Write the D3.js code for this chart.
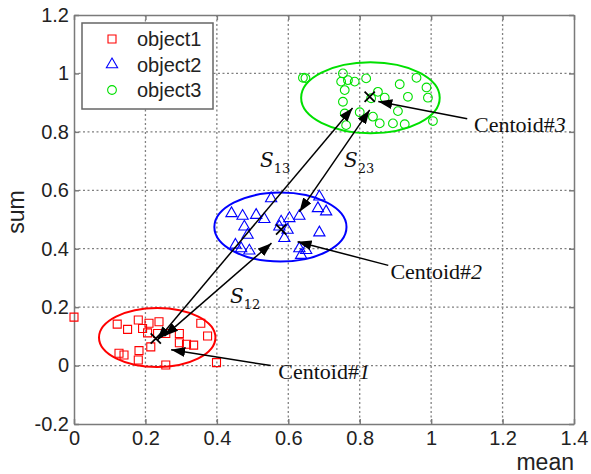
<!DOCTYPE html>
<html>
<head>
<meta charset="utf-8">
<script src="https://cdn.jsdelivr.net/npm/d3@7"></script>
<style>
  body { margin: 0; background: #fff; }
  svg { display: block; }
  .tick text { font-family: "Liberation Sans", Arial, sans-serif; font-size: 20px; fill: #222; }
</style>
</head>
<body>
<svg></svg>
<script>
window.addEventListener('DOMContentLoaded', () => {
  let svgWidth = 591
  let svgHeight = 474
  let left = 74, right = 574, top = 15, bottom = 424

  let xTicks = [0, 0.2, 0.4, 0.6, 0.8, 1, 1.2, 1.4]
  let yTicks = [-0.2, 0, 0.2, 0.4, 0.6, 0.8, 1, 1.2]

  /* object1 (red squares) */
  let obj1X = [0.121, 0.150, 0.180, 0.210, 0.238, 0.192, 0.206, 0.234, 0.257, 0.295, 0.355, 0.374,
               0.295, 0.315, 0.335, 0.215, 0.182, 0.126, 0.140, 0.180, 0.257, 0.399, 0.0]
  let obj1Y = [0.142, 0.124, 0.156, 0.145, 0.150, 0.127, 0.112, 0.110, 0.110, 0.110, 0.145, 0.101,
               0.078, 0.073, 0.070, 0.064, 0.051, 0.042, 0.036, 0.019, 0.002, 0.010, 0.166]

  /* object2 (blue triangles) */
  let obj2X = [0.441, 0.472, 0.510, 0.533, 0.552, 0.477, 0.486, 0.580, 0.603, 0.631, 0.575, 0.598,
               0.589, 0.687, 0.683, 0.706, 0.687, 0.468, 0.491, 0.631, 0.650, 0.636, 0.452]
  let obj2Y = [0.521, 0.512, 0.515, 0.501, 0.572, 0.475, 0.447, 0.492, 0.504, 0.512, 0.475, 0.464,
               0.436, 0.578, 0.538, 0.527, 0.455, 0.401, 0.393, 0.401, 0.395, 0.378, 0.413]

  /* object3 (green circles) */
  let obj3X = [0.641, 0.648, 0.753, 0.767, 0.748, 0.786, 0.818, 0.758, 0.851, 0.870, 0.832, 0.912,
               0.959, 0.987, 0.991, 0.935, 0.753, 0.758, 0.800, 0.837, 0.907, 0.856, 0.893, 0.926,
               1.005, 0.762]
  let obj3Y = [0.985, 0.984, 1.000, 0.977, 0.972, 0.972, 0.983, 0.943, 0.937, 0.917, 0.915, 0.963,
               0.985, 0.952, 0.917, 0.920, 0.903, 0.863, 0.867, 0.852, 0.871, 0.829, 0.829, 0.826,
               0.837, 0.823]

  /* cluster ellipses: centre and radii in data units */
  let ellipseCx = [0.233, 0.578, 0.830]
  let ellipseCy = [0.096, 0.474, 0.917]
  let ellipseRx = [0.163, 0.185, 0.194]
  let ellipseRy = [0.101, 0.118, 0.1215]

  let centroidX = [0.229, 0.580, 0.828]
  let centroidY = [0.093, 0.466, 0.920]

  /* distance arrows S12, S13, S23 (double headed) */
  let distNames = ['12', '13', '23']
  let distX0 = [0.253, 0.233, 0.631]
  let distY0 = [0.101, 0.087, 0.526]
  let distX1 = [0.553, 0.780, 0.828]
  let distY1 = [0.419, 0.882, 0.875]
  let distLabelX = [0.437, 0.521, 0.756]
  let distLabelY = [0.214, 0.680, 0.680]

  /* centroid label arrows */
  let labelNums = ['1', '2', '3']
  let labelArrowX0 = [0.551, 0.880, 1.101]
  let labelArrowY0 = [0.0, 0.343, 0.845]
  let labelArrowX1 = [0.272, 0.626, 0.852]
  let labelArrowY1 = [0.054, 0.424, 0.904]
  let labelTextX = [0.572, 0.886, 1.120]
  let labelTextY = [-0.047, 0.297, 0.800]

  let legendNames = ['object1', 'object2', 'object3']
  let colors = ['#ff0000', '#0000ff', '#00e000']

  let svg = d3.select('svg')
      .attr('width', svgWidth)
      .attr('height', svgHeight)

  let xScale = d3.scaleLinear().domain([0, 1.4]).range([left, right])
  let yScale = d3.scaleLinear().domain([-0.2, 1.2]).range([bottom, top])

  /* arrow head marker */
  svg.append('defs')
    .append('marker')
      .attr('id', 'head')
      .attr('viewBox', '0 0 14 10')
      .attr('refX', 14)
      .attr('refY', 5)
      .attr('markerWidth', 14)
      .attr('markerHeight', 10)
      .attr('markerUnits', 'userSpaceOnUse')
      .attr('orient', 'auto-start-reverse')
    .append('path')
      .attr('d', 'M0,0 L14,5 L0,10 Z')
      .attr('fill', '#000')

  /* Grid */
  let grid = svg.append('g').attr('stroke', '#808080').attr('stroke-width', 1.3).attr('stroke-dasharray', '2,2.5')
  grid.selectAll('.vgrid')
    .data(xTicks.slice(1, -1))
    .enter()
    .append('line')
      .attr('x1', d => xScale(d)).attr('x2', d => xScale(d))
      .attr('y1', top).attr('y2', bottom)
  grid.selectAll('.hgrid')
    .data(yTicks.slice(1, -1))
    .enter()
    .append('line')
      .attr('x1', left).attr('x2', right)
      .attr('y1', d => yScale(d)).attr('y2', d => yScale(d))

  /* Axes */
  let fmt = d => String(d)
  let xAxis = svg.append('g')
    .attr('transform', `translate(0, ${bottom})`)
    .call(d3.axisBottom(xScale).tickValues(xTicks).tickFormat(fmt).tickSize(-5).tickSizeOuter(0).tickPadding(7))
  let yAxis = svg.append('g')
    .attr('transform', `translate(${left}, 0)`)
    .call(d3.axisLeft(yScale).tickValues(yTicks).tickFormat(fmt).tickSize(-5).tickSizeOuter(0).tickPadding(5))
  svg.append('g')
    .attr('transform', `translate(0, ${top})`)
    .call(d3.axisTop(xScale).tickValues(xTicks).tickFormat('').tickSize(-5).tickSizeOuter(0))
  svg.append('g')
    .attr('transform', `translate(${right}, 0)`)
    .call(d3.axisRight(yScale).tickValues(yTicks).tickFormat('').tickSize(-5).tickSizeOuter(0))
  svg.selectAll('.domain, .tick line').attr('stroke', '#7a7a7a').attr('stroke-width', 1.5)
  xAxis.selectAll('text').attr('dy', '0.72em')

  /* Axis labels */
  svg.append('text')
    .attr('x', right)
    .attr('y', 470)
    .attr('text-anchor', 'end')
    .style('font-family', '"Liberation Sans", Arial, sans-serif')
    .style('font-size', '23px')
    .attr('fill', '#222')
    .text('mean')
  svg.append('text')
    .attr('transform', `translate(24, 212) rotate(-90)`)
    .attr('text-anchor', 'middle')
    .style('font-family', '"Liberation Sans", Arial, sans-serif')
    .style('font-size', '23px')
    .attr('fill', '#222')
    .text('sum')

  /* Ellipses */
  svg.selectAll('.ell')
    .data(ellipseCx)
    .enter()
    .append('ellipse')
      .attr('cx', d => xScale(d))
      .attr('cy', (d, i) => yScale(ellipseCy[i]))
      .attr('rx', (d, i) => xScale(ellipseRx[i]) - xScale(0))
      .attr('ry', (d, i) => yScale(0) - yScale(ellipseRy[i]))
      .attr('fill', 'none')
      .attr('stroke', (d, i) => colors[i])
      .attr('stroke-width', 2)

  /* Points */
  let squareSym = d3.symbol().type(d3.symbolSquare).size(64)
  let triSym = d3.symbol().type(d3.symbolTriangle).size(55)
  let circleSym = d3.symbol().type(d3.symbolCircle).size(60)
  let sets = [
    { xs: obj1X, ys: obj1Y, sym: squareSym, color: colors[0] },
    { xs: obj2X, ys: obj2Y, sym: triSym, color: colors[1] },
    { xs: obj3X, ys: obj3Y, sym: circleSym, color: colors[2] }
  ]
  sets.forEach(s => {
    svg.append('g')
      .selectAll('path')
      .data(s.xs)
      .enter()
      .append('path')
        .attr('d', s.sym)
        .attr('transform', (d, i) => `translate(${xScale(d)}, ${yScale(s.ys[i])})`)
        .attr('fill', 'none')
        .attr('stroke', s.color)
        .attr('stroke-width', 1.1)
  })

  /* Centroid crosses */
  svg.append('g')
    .selectAll('path')
    .data(centroidX)
    .enter()
    .append('path')
      .attr('d', d3.symbol().type(d3.symbolX).size(70))
      .attr('transform', (d, i) => `translate(${xScale(d)}, ${yScale(centroidY[i])})`)
      .attr('fill', 'none')
      .attr('stroke', '#000')
      .attr('stroke-width', 1.8)

  /* Distance arrows */
  svg.append('g')
    .selectAll('line')
    .data(distX0)
    .enter()
    .append('line')
      .attr('x1', d => xScale(d))
      .attr('y1', (d, i) => yScale(distY0[i]))
      .attr('x2', (d, i) => xScale(distX1[i]))
      .attr('y2', (d, i) => yScale(distY1[i]))
      .attr('stroke', '#000')
      .attr('stroke-width', 1.5)
      .attr('marker-start', 'url(#head)')
      .attr('marker-end', 'url(#head)')

  let sLabels = svg.append('g')
    .selectAll('text')
    .data(distNames)
    .enter()
    .append('text')
      .attr('x', (d, i) => xScale(distLabelX[i]))
      .attr('y', (d, i) => yScale(distLabelY[i]))
      .style('font-family', '"DejaVu Serif", "Liberation Serif", serif')
      .attr('fill', '#111')
  sLabels.append('tspan')
    .style('font-style', 'italic')
    .style('font-size', '20px')
    .text('S')
  sLabels.append('tspan')
    .attr('dy', 6)
    .style('font-size', '13px')
    .text(d => d)

  /* Centroid label arrows */
  svg.append('g')
    .selectAll('line')
    .data(labelArrowX0)
    .enter()
    .append('line')
      .attr('x1', d => xScale(d))
      .attr('y1', (d, i) => yScale(labelArrowY0[i]))
      .attr('x2', (d, i) => xScale(labelArrowX1[i]))
      .attr('y2', (d, i) => yScale(labelArrowY1[i]))
      .attr('stroke', '#000')
      .attr('stroke-width', 1.5)
      .attr('marker-end', 'url(#head)')

  let cLabels = svg.append('g')
    .selectAll('text')
    .data(labelNums)
    .enter()
    .append('text')
      .attr('x', (d, i) => xScale(labelTextX[i]))
      .attr('y', (d, i) => yScale(labelTextY[i]))
      .style('font-family', '"Liberation Serif", "Times New Roman", serif')
      .style('font-size', '22px')
      .attr('fill', '#111')
  cLabels.append('tspan').text('Centoid#')
  cLabels.append('tspan').style('font-style', 'italic').text(d => d)

  /* Legend */
  let legend = svg.append('g')
  legend.append('rect')
    .attr('x', 82).attr('y', 23)
    .attr('width', 131).attr('height', 86)
    .attr('fill', '#fff')
    .attr('stroke', '#666')
    .attr('stroke-width', 1.5)
  let legendSyms = [squareSym, triSym, circleSym]
  let rows = legend.selectAll('.row')
    .data(legendNames)
    .enter()
    .append('g')
      .attr('transform', (d, i) => `translate(0, ${39 + i * 25.5})`)
  rows.append('path')
    .attr('d', (d, i) => legendSyms[i]())
    .attr('transform', 'translate(112, 0)')
    .attr('fill', 'none')
    .attr('stroke', (d, i) => colors[i])
    .attr('stroke-width', 1.1)
  rows.append('text')
    .attr('x', 137)
    .attr('dy', '0.36em')
    .style('font-family', '"Liberation Sans", Arial, sans-serif')
    .style('font-size', '20px')
    .attr('fill', '#222')
    .text(d => d)
})
</script>
</body>
</html>
